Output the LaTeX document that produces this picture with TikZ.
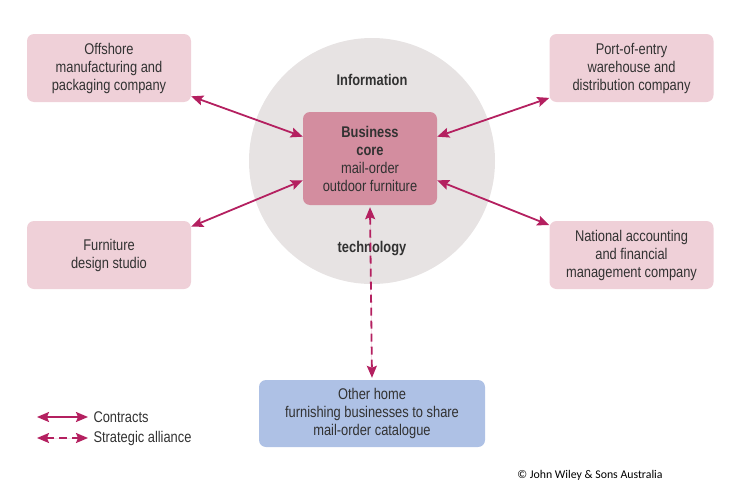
\documentclass[tikz,border=0pt]{standalone}
\usepackage{fontspec}
\setmainfont{Liberation Sans}[FakeStretch=0.83]
\newfontfamily\copyfont{Carlito}
\usetikzlibrary{arrows.meta}

\definecolor{ringgray}{RGB}{231,227,227}
\definecolor{corepink}{RGB}{211,141,159}
\definecolor{partnerpink}{RGB}{239,208,216}
\definecolor{allianceblue}{RGB}{174,193,229}
\definecolor{linkred}{RGB}{180,32,96}
\definecolor{textgray}{RGB}{50,50,50}

\tikzset{
    partner/.style={rectangle, rounded corners=7pt, fill=partnerpink, text=textgray,
        minimum width=164pt, minimum height=68pt, align=center,
        font=\fontsize{15.5}{18}\selectfont},
    contract/.style={{Stealth[length=12pt,width=10pt,inset=2pt]}-{Stealth[length=12pt,width=10pt,inset=2pt]},
        draw=linkred, fill=linkred, line width=1.8pt},
    alliance/.style={contract, dash pattern=on 8pt off 5pt},
    caption/.style={text=textgray, font=\bfseries\fontsize{15.5}{18}\selectfont}
}

\begin{document}
\begin{tikzpicture}[x=1pt, y=-1pt]
    \useasboundingbox (0,0) rectangle (729,482);

    % Draw information technology ring
    \fill[ringgray] (372,161) circle (123pt);
    \node (info) at (372,80) [caption] {Information};
    \node (tech) at (372,249) [caption] {technology};

    % Draw business core
    \node (core) at (370,158.5) [rectangle, rounded corners=7pt, fill=corepink, text=textgray,
        minimum width=134pt, minimum height=93pt, align=center,
        font=\fontsize{15.5}{18}\selectfont] {\textbf{Business}\\\textbf{core}\\mail-order\\outdoor furniture};

    % Draw partners
    \node (offshore) at (109,68) [partner] {Offshore\\manufacturing and\\packaging company};
    \node (design) at (109,255) [partner] {Furniture\\design studio};
    \node (port) at (631.5,68) [partner] {Port-of-entry\\warehouse and\\distribution company};
    \node (accounting) at (631.5,255) [partner] {National accounting\\and financial\\management company};

    \node (others) at (372,413.5) [partner, fill=allianceblue, minimum width=226pt, minimum height=67pt]
        {Other home\\furnishing businesses to share\\mail-order catalogue};

    % Draw arrows
    \draw[contract] (offshore.-19.5) -- (core.162);
    \draw[contract] (design.19.5) -- (core.198.5);
    \draw[contract] (port.200.5) -- (core.18);
    \draw[contract] (accounting.160.5) -- (core.-18.5);
    \draw[alliance] ([yshift=-2pt]core.south) -- ([yshift=2pt]others.north);

    % Draw legend
    \coordinate (contractA) at (37,417);
    \coordinate (contractB) at (88,417);
    \coordinate (allianceA) at (37,438);
    \coordinate (allianceB) at (88,438);
    \draw[contract] (contractA) -- (contractB);
    \draw[alliance] (allianceA) -- (allianceB);
    \node (contractlabel) at (90,417) [anchor=west, text=textgray, font=\fontsize{15.5}{18}\selectfont] {Contracts};
    \node (alliancelabel) at (90,438) [anchor=west, text=textgray, font=\fontsize{15.5}{18}\selectfont] {Strategic alliance};

    % Draw credit
    \node (credit) at (590,475) [text=black, font=\copyfont\fontsize{11.8}{13}\selectfont] {© John Wiley \& Sons Australia};
\end{tikzpicture}
\end{document}
